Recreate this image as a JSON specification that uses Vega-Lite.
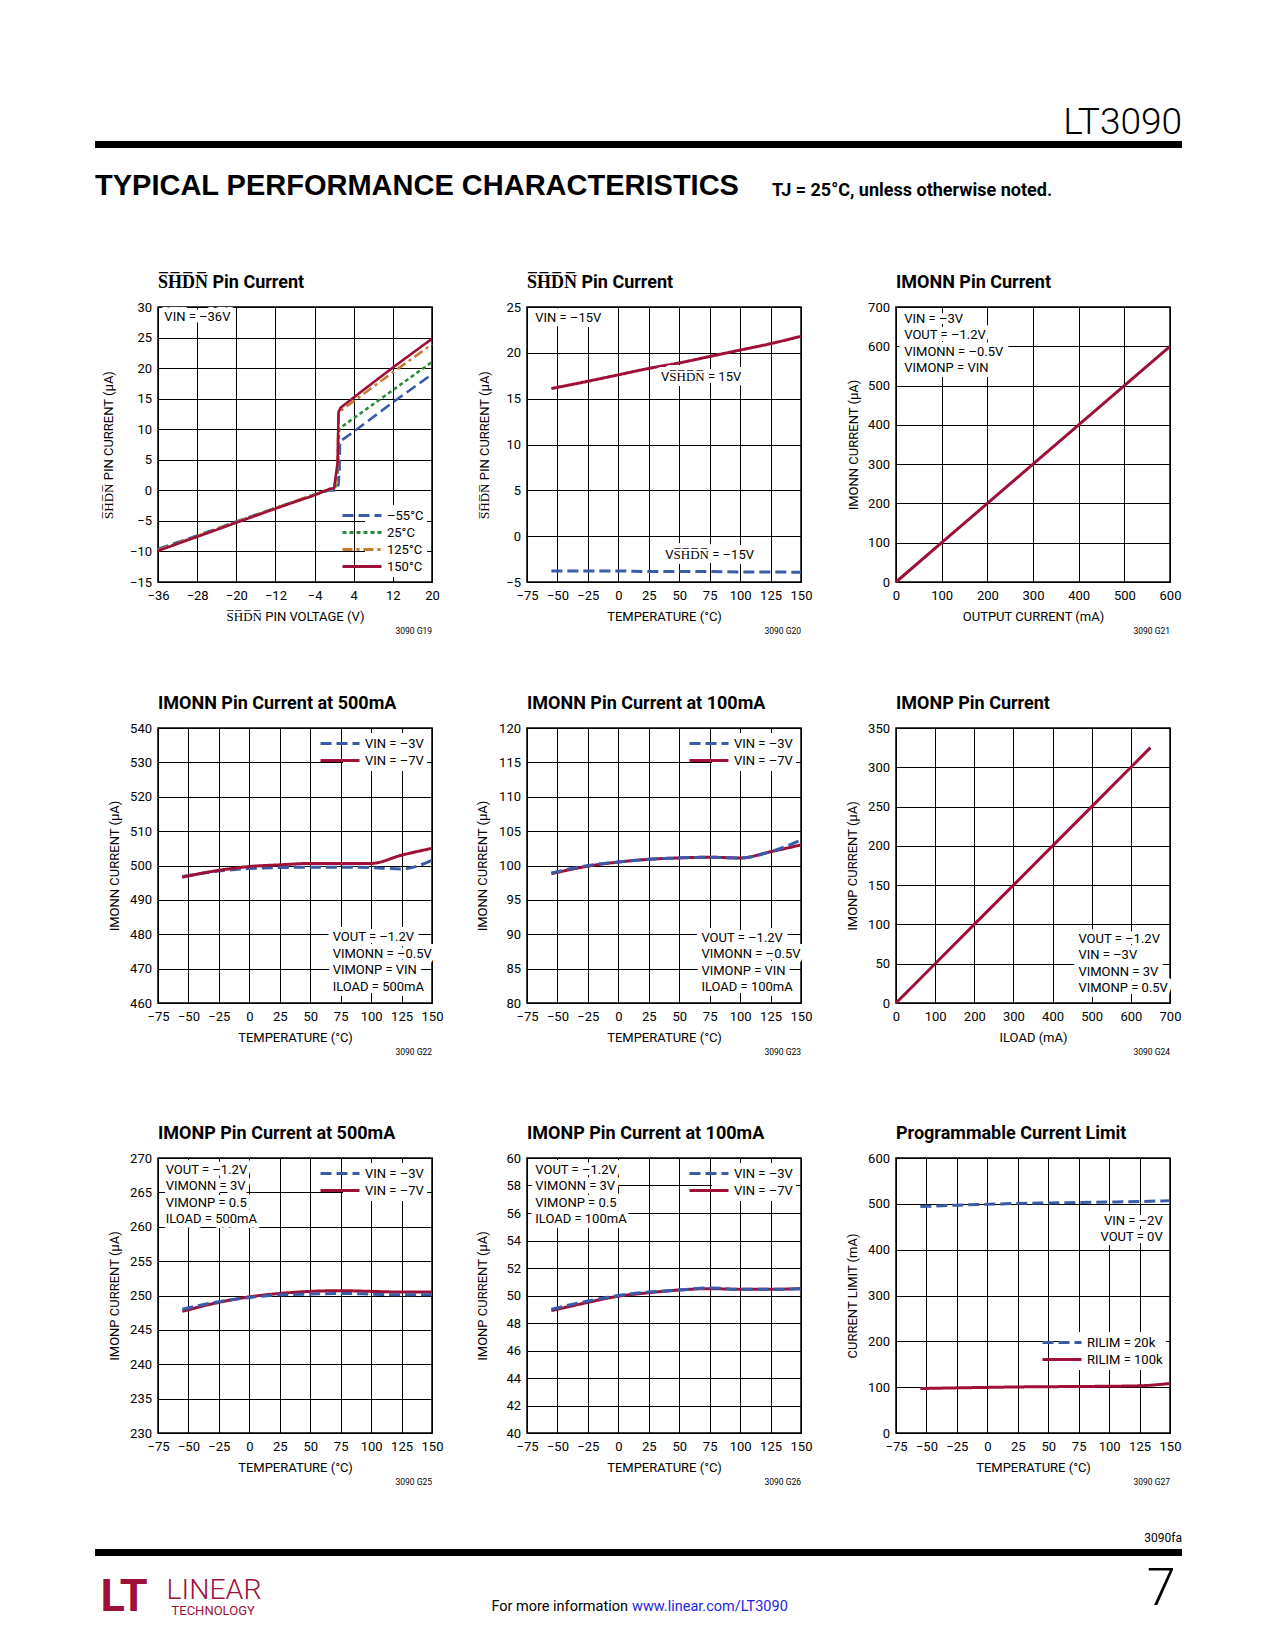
{
  "$schema": "https://vega.github.io/schema/vega-lite/v6.json",
  "background": "white",
  "padding": {"left": 94, "top": 103, "right": 0, "bottom": 0},
  "spacing": 0,
  "columns": 1,
  "align": "none",
  "resolve": {"scale": {"color": "independent", "strokeDash": "independent"}},
  "config": {
    "font": "Roboto",
    "view": {"stroke": "black", "strokeWidth": 1.5},
    "axis": {"grid": true, "gridColor": "black", "gridOpacity": 1, "gridWidth": 1, "domain": false, "ticks": false,
      "labelFont": "Roboto", "labelFontSize": 13, "labelColor": "black", "labelPadding": 6.5,
      "labelOverlap": false, "labelFlush": false, "tickCount": 20,
      "titleFont": "Roboto", "titleFontSize": 13, "titleFontWeight": "normal", "titleColor": "black"},
    "axisX": {"labelPadding": 7, "titlePadding": 8},
    "title": {"font": "Roboto", "fontSize": 18, "fontWeight": "bold", "color": "black", "anchor": "start", "frame": "group", "baseline": "alphabetic", "offset": 9.5},
    "legend": {"labelFont": "Roboto", "labelFontSize": 13, "labelColor": "black", "fillColor": "white", "padding": 3,
      "symbolType": "M-5.5,0H1", "symbolSize": 144, "symbolStrokeWidth": 3, "labelOffset": 4, "rowPadding": 2},
    "text": {"font": "Roboto", "fontSize": 13, "color": "black"}
  },
  "concat": [
    {
      "width": 1087, "height": 7,
      "view": {"fill": "black", "stroke": null},
      "title": {"text": "LT3090", "anchor": "end", "fontSize": 37, "fontWeight": 300, "offset": -3},
      "data": {"values": [{}]},
      "mark": {"type": "text"},
      "encoding": {"text": {"value": ""}}
    },
    {
      "width": 10, "height": 20, "view": {"stroke": null},
      "data": {"values": [{}]}, "mark": {"type": "text"}, "encoding": {"text": {"value": ""}}
    },
    {
      "bounds": "flush", "spacing": 27,
      "hconcat": [
        {
          "width": 650, "height": 64.5, "view": {"stroke": null},
          "title": {"text": "TYPICAL PERFORMANCE CHARACTERISTICS", "font": "Liberation Sans", "fontSize": 29, "fontWeight": "bold", "offset": 6},
          "data": {"values": [{}]}, "mark": {"type": "text"}, "encoding": {"text": {"value": ""}}
        },
        {
          "width": 410, "height": 64.5, "view": {"stroke": null},
          "title": {"text": "TJ = 25°C, unless otherwise noted.", "fontSize": 18, "fontWeight": "bold", "offset": 7.5},
          "data": {"values": [{}]}, "mark": {"type": "text"}, "encoding": {"text": {"value": ""}}
        }
      ]
    },
    {
      "bounds": "flush", "spacing": 62,
      "resolve": {"scale": {"color": "independent", "strokeDash": "independent"}},
      "hconcat": [
        {
          "width": 1, "height": 1, "view": {"stroke": null},
          "data": {"values": [{}]}, "mark": {"type": "text"}, "encoding": {"text": {"value": ""}}
        },
        {
          "bounds": "flush", "spacing": 95,
          "resolve": {"scale": {"color": "independent", "strokeDash": "independent"}},
          "hconcat": [
            {
              "width": 274, "height": 275,
              "title": {"text": "S̅H̅D̅N̅ Pin Current"},
              "layer": [
                {
                  "data": {"values": [
                    {"s": "–55°C", "x": -36, "y": -9.6}, {"s": "–55°C", "x": -28, "y": -7.4}, {"s": "–55°C", "x": -20, "y": -5.1}, {"s": "–55°C", "x": -12, "y": -2.9}, {"s": "–55°C", "x": -4, "y": -0.7}, {"s": "–55°C", "x": -1, "y": 0.0}, {"s": "–55°C", "x": 0.4, "y": 0.0}, {"s": "–55°C", "x": 0.9, "y": 1.0}, {"s": "–55°C", "x": 1.1, "y": 3.5}, {"s": "–55°C", "x": 1.2, "y": 8.0}, {"s": "–55°C", "x": 4, "y": 9.6}, {"s": "–55°C", "x": 12, "y": 14.4}, {"s": "–55°C", "x": 20, "y": 19.0},
                    {"s": "25°C", "x": -36, "y": -9.8}, {"s": "25°C", "x": -28, "y": -7.5}, {"s": "25°C", "x": -20, "y": -5.2}, {"s": "25°C", "x": -12, "y": -2.9}, {"s": "25°C", "x": -4, "y": -0.7}, {"s": "25°C", "x": -1, "y": 0.1}, {"s": "25°C", "x": 0.2, "y": 0.2}, {"s": "25°C", "x": 0.8, "y": 3.5}, {"s": "25°C", "x": 1.0, "y": 9.8}, {"s": "25°C", "x": 1.4, "y": 10.3}, {"s": "25°C", "x": 4, "y": 11.8}, {"s": "25°C", "x": 12, "y": 16.4}, {"s": "25°C", "x": 20, "y": 21.0},
                    {"s": "125°C", "x": -36, "y": -9.8}, {"s": "125°C", "x": -28, "y": -7.5}, {"s": "125°C", "x": -20, "y": -5.2}, {"s": "125°C", "x": -12, "y": -2.9}, {"s": "125°C", "x": -4, "y": -0.7}, {"s": "125°C", "x": -1, "y": 0.2}, {"s": "125°C", "x": 0.1, "y": 0.3}, {"s": "125°C", "x": 0.7, "y": 4.0}, {"s": "125°C", "x": 0.9, "y": 12.3}, {"s": "125°C", "x": 1.3, "y": 13.0}, {"s": "125°C", "x": 4, "y": 14.6}, {"s": "125°C", "x": 12, "y": 19.3}, {"s": "125°C", "x": 20, "y": 23.9},
                    {"s": "150°C", "x": -36, "y": -9.9}, {"s": "150°C", "x": -28, "y": -7.6}, {"s": "150°C", "x": -20, "y": -5.3}, {"s": "150°C", "x": -12, "y": -3.0}, {"s": "150°C", "x": -4, "y": -0.8}, {"s": "150°C", "x": -1, "y": 0.2}, {"s": "150°C", "x": 0.0, "y": 0.4}, {"s": "150°C", "x": 0.7, "y": 4.5}, {"s": "150°C", "x": 0.9, "y": 12.8}, {"s": "150°C", "x": 1.3, "y": 13.5}, {"s": "150°C", "x": 4, "y": 15.2}, {"s": "150°C", "x": 12, "y": 20.1}, {"s": "150°C", "x": 20, "y": 24.8}
                  ]},
                  "mark": {"type": "line", "strokeWidth": 2.6},
                  "encoding": {
                    "x": {"field": "x", "type": "quantitative", "scale": {"domain": [-36, 20], "nice": false, "zero": false}, "axis": {"values": [-36, -28, -20, -12, -4, 4, 12, 20], "tickCount": 20, "title": "S̅H̅D̅N̅ PIN VOLTAGE (V)"}},
                    "y": {"field": "y", "type": "quantitative", "scale": {"domain": [-15, 30], "nice": false, "zero": false}, "axis": {"values": [-15, -10, -5, 0, 5, 10, 15, 20, 25, 30], "tickCount": 20, "title": ["", "S̅H̅D̅N̅ PIN CURRENT (μA)"], "titleLineHeight": 7.3, "titlePadding": 14.1}},
                    "color": {"field": "s", "type": "nominal", "scale": {"domain": ["–55°C", "25°C", "125°C", "150°C"], "range": ["#3a5ca8", "#2d8c3c", "#c97c2f", "#9e1038"]}, "legend": {"title": null, "orient": "bottom-right", "offset": 5}},
                    "strokeDash": {"field": "s", "type": "nominal", "scale": {"domain": ["–55°C", "25°C", "125°C", "150°C"], "range": [[11, 5], [4, 3], [10, 4, 3, 4], [1, 0]]}, "legend": {"title": null, "orient": "bottom-right", "offset": 5}}
                  }
                },
                {"data": {"values": [{}]}, "mark": {"type": "text", "align": "left", "baseline": "top", "fill": "white", "stroke": "white", "strokeWidth": 10, "strokeJoin": "round"},
                 "encoding": {"x": {"datum": -34.7}, "y": {"datum": 29.3}, "text": {"value": "VIN = –36V"}}},
                {"data": {"values": [{}]}, "mark": {"type": "text", "align": "left", "baseline": "top"},
                 "encoding": {"x": {"datum": -34.7}, "y": {"datum": 29.3}, "text": {"value": "VIN = –36V"}}},
                {"data": {"values": [{}]}, "mark": {"type": "text", "align": "right", "baseline": "middle", "fontSize": 8.5, "dy": 49},
                 "encoding": {"x": {"datum": 20}, "y": {"datum": -15}, "text": {"value": "3090 G19"}}}
              ]
            },
            {
              "width": 274, "height": 275,
              "title": {"text": "S̅H̅D̅N̅ Pin Current"},
              "layer": [
                {
                  "data": {"values": [
                    {"s": "VSHDN = 15V", "x": -55, "y": 16.1}, {"s": "VSHDN = 15V", "x": -25, "y": 16.9}, {"s": "VSHDN = 15V", "x": 0, "y": 17.6}, {"s": "VSHDN = 15V", "x": 25, "y": 18.3}, {"s": "VSHDN = 15V", "x": 50, "y": 18.9}, {"s": "VSHDN = 15V", "x": 75, "y": 19.6}, {"s": "VSHDN = 15V", "x": 100, "y": 20.3}, {"s": "VSHDN = 15V", "x": 125, "y": 21.0}, {"s": "VSHDN = 15V", "x": 150, "y": 21.8},
                    {"s": "VSHDN = –15V", "x": -55, "y": -3.8}, {"s": "VSHDN = –15V", "x": -25, "y": -3.8}, {"s": "VSHDN = –15V", "x": 0, "y": -3.8}, {"s": "VSHDN = –15V", "x": 25, "y": -3.85}, {"s": "VSHDN = –15V", "x": 50, "y": -3.85}, {"s": "VSHDN = –15V", "x": 75, "y": -3.85}, {"s": "VSHDN = –15V", "x": 100, "y": -3.9}, {"s": "VSHDN = –15V", "x": 125, "y": -3.9}, {"s": "VSHDN = –15V", "x": 150, "y": -3.95}
                  ]},
                  "mark": {"type": "line", "strokeWidth": 3, "interpolate": "monotone"},
                  "encoding": {
                    "x": {"field": "x", "type": "quantitative", "scale": {"domain": [-75, 150], "nice": false, "zero": false}, "axis": {"values": [-75, -50, -25, 0, 25, 50, 75, 100, 125, 150], "tickCount": 20, "title": "TEMPERATURE (°C)"}},
                    "y": {"field": "y", "type": "quantitative", "scale": {"domain": [-5, 25], "nice": false, "zero": false}, "axis": {"values": [-5, 0, 5, 10, 15, 20, 25], "tickCount": 20, "title": "S̅H̅D̅N̅ PIN CURRENT (μA)", "titlePadding": 14.1}},
                    "color": {"field": "s", "type": "nominal", "scale": {"domain": ["VSHDN = –15V", "VSHDN = 15V"], "range": ["#3a5ca8", "#9e1038"]}, "legend": null},
                    "strokeDash": {"field": "s", "type": "nominal", "scale": {"domain": ["VSHDN = –15V", "VSHDN = 15V"], "range": [[11, 5], [1, 0]]}, "legend": null}
                  }
                },
                {"data": {"values": [{}]}, "mark": {"type": "text", "align": "left", "baseline": "top", "fill": "white", "stroke": "white", "strokeWidth": 10, "strokeJoin": "round"},
                 "encoding": {"x": {"datum": -68.2}, "y": {"datum": 24.5}, "text": {"value": "VIN = –15V"}}},
                {"data": {"values": [{}]}, "mark": {"type": "text", "align": "left", "baseline": "top"},
                 "encoding": {"x": {"datum": -68.2}, "y": {"datum": 24.5}, "text": {"value": "VIN = –15V"}}},
                {"data": {"values": [{}]}, "mark": {"type": "text", "align": "center", "baseline": "middle", "fill": "white", "stroke": "white", "strokeWidth": 10, "strokeJoin": "round"},
                 "encoding": {"x": {"datum": 68}, "y": {"datum": 17.4}, "text": {"value": "VS̅H̅D̅N̅ = 15V"}}},
                {"data": {"values": [{}]}, "mark": {"type": "text", "align": "center", "baseline": "middle"},
                 "encoding": {"x": {"datum": 68}, "y": {"datum": 17.4}, "text": {"value": "VS̅H̅D̅N̅ = 15V"}}},
                {"data": {"values": [{}]}, "mark": {"type": "text", "align": "center", "baseline": "middle", "fill": "white", "stroke": "white", "strokeWidth": 10, "strokeJoin": "round"},
                 "encoding": {"x": {"datum": 75}, "y": {"datum": -2.0}, "text": {"value": "VS̅H̅D̅N̅ = –15V"}}},
                {"data": {"values": [{}]}, "mark": {"type": "text", "align": "center", "baseline": "middle"},
                 "encoding": {"x": {"datum": 75}, "y": {"datum": -2.0}, "text": {"value": "VS̅H̅D̅N̅ = –15V"}}},
                {"data": {"values": [{}]}, "mark": {"type": "text", "align": "right", "baseline": "middle", "fontSize": 8.5, "dy": 49},
                 "encoding": {"x": {"datum": 150}, "y": {"datum": -5}, "text": {"value": "3090 G20"}}}
              ]
            },
            {
              "width": 274, "height": 275,
              "title": {"text": "IMONN Pin Current"},
              "layer": [
                {
                  "data": {"values": [
                    {"x": 0, "y": 0}, {"x": 100, "y": 100}, {"x": 200, "y": 200}, {"x": 300, "y": 300}, {"x": 400, "y": 400}, {"x": 500, "y": 500}, {"x": 600, "y": 600}
                  ]},
                  "mark": {"type": "line", "strokeWidth": 3, "color": "#9e1038"},
                  "encoding": {
                    "x": {"field": "x", "type": "quantitative", "scale": {"domain": [0, 600], "nice": false, "zero": false}, "axis": {"values": [0, 100, 200, 300, 400, 500, 600], "tickCount": 20, "title": "OUTPUT CURRENT (mA)"}},
                    "y": {"field": "y", "type": "quantitative", "scale": {"domain": [0, 700], "nice": false, "zero": false}, "axis": {"values": [0, 100, 200, 300, 400, 500, 600, 700], "tickCount": 20, "title": "IMONN CURRENT (μA)", "titlePadding": 7.2}}
                  }
                },
                {"data": {"values": [{}]}, "mark": {"type": "text", "align": "left", "baseline": "top", "lineHeight": 16.5, "fill": "white", "stroke": "white", "strokeWidth": 10, "strokeJoin": "round"},
                 "encoding": {"x": {"datum": 18}, "y": {"datum": 686}, "text": {"value": ["VIN = –3V", "VOUT = –1.2V", "VIMONN = –0.5V", "VIMONP = VIN"]}}},
                {"data": {"values": [{}]}, "mark": {"type": "text", "align": "left", "baseline": "top", "lineHeight": 16.5},
                 "encoding": {"x": {"datum": 18}, "y": {"datum": 686}, "text": {"value": ["VIN = –3V", "VOUT = –1.2V", "VIMONN = –0.5V", "VIMONP = VIN"]}}},
                {"data": {"values": [{}]}, "mark": {"type": "text", "align": "right", "baseline": "middle", "fontSize": 8.5, "dy": 49},
                 "encoding": {"x": {"datum": 600}, "y": {"datum": 0}, "text": {"value": "3090 G21"}}}
              ]
            }
          ]
        }
      ]
    },
    {
      "width": 10, "height": 56, "view": {"stroke": null},
      "data": {"values": [{}]}, "mark": {"type": "text"}, "encoding": {"text": {"value": ""}}
    },
    {
      "bounds": "flush", "spacing": 62,
      "resolve": {"scale": {"color": "independent", "strokeDash": "independent"}},
      "hconcat": [
        {
          "width": 1, "height": 1, "view": {"stroke": null},
          "data": {"values": [{}]}, "mark": {"type": "text"}, "encoding": {"text": {"value": ""}}
        },
        {
          "bounds": "flush", "columns": 3, "spacing": {"column": 95, "row": 155},
          "resolve": {"scale": {"color": "independent", "strokeDash": "independent"}},
          "concat": [
            {
              "width": 274, "height": 275,
              "title": {"text": "IMONN Pin Current at 500mA"},
              "layer": [
                {
                  "data": {"values": [
                    {"s": "VIN = –3V", "x": -55, "y": 496.8}, {"s": "VIN = –3V", "x": -25, "y": 498.4}, {"s": "VIN = –3V", "x": 0, "y": 499.1}, {"s": "VIN = –3V", "x": 25, "y": 499.4}, {"s": "VIN = –3V", "x": 50, "y": 499.5}, {"s": "VIN = –3V", "x": 75, "y": 499.5}, {"s": "VIN = –3V", "x": 100, "y": 499.4}, {"s": "VIN = –3V", "x": 125, "y": 499.0}, {"s": "VIN = –3V", "x": 150, "y": 501.5},
                    {"s": "VIN = –7V", "x": -55, "y": 496.6}, {"s": "VIN = –7V", "x": -25, "y": 498.6}, {"s": "VIN = –7V", "x": 0, "y": 499.7}, {"s": "VIN = –7V", "x": 25, "y": 500.2}, {"s": "VIN = –7V", "x": 50, "y": 500.6}, {"s": "VIN = –7V", "x": 75, "y": 500.6}, {"s": "VIN = –7V", "x": 100, "y": 500.6}, {"s": "VIN = –7V", "x": 125, "y": 503.0}, {"s": "VIN = –7V", "x": 150, "y": 505.0}
                  ]},
                  "mark": {"type": "line", "strokeWidth": 3, "interpolate": "monotone"},
                  "encoding": {
                    "x": {"field": "x", "type": "quantitative", "scale": {"domain": [-75, 150], "nice": false, "zero": false}, "axis": {"values": [-75, -50, -25, 0, 25, 50, 75, 100, 125, 150], "tickCount": 20, "title": "TEMPERATURE (°C)"}},
                    "y": {"field": "y", "type": "quantitative", "scale": {"domain": [460, 540], "nice": false, "zero": false}, "axis": {"values": [460, 470, 480, 490, 500, 510, 520, 530, 540], "tickCount": 20, "title": ["", "IMONN CURRENT (μA)"], "titleLineHeight": 13.3, "titlePadding": 8.2}},
                    "color": {"field": "s", "type": "nominal", "scale": {"domain": ["VIN = –3V", "VIN = –7V"], "range": ["#3a5ca8", "#9e1038"]}, "legend": {"title": null, "orient": "top-right", "offset": 5}},
                    "strokeDash": {"field": "s", "type": "nominal", "scale": {"domain": ["VIN = –3V", "VIN = –7V"], "range": [[11, 5], [1, 0]]}, "legend": {"title": null, "orient": "top-right", "offset": 5}}
                  }
                },
                {"data": {"values": [{}]}, "mark": {"type": "text", "align": "left", "baseline": "middle", "lineHeight": 16.5, "fill": "white", "stroke": "white", "strokeWidth": 10, "strokeJoin": "round"},
                 "encoding": {"x": {"datum": 68.4}, "y": {"datum": 479.2}, "text": {"value": ["VOUT = –1.2V", "VIMONN = –0.5V", "VIMONP = VIN", "ILOAD = 500mA"]}}},
                {"data": {"values": [{}]}, "mark": {"type": "text", "align": "left", "baseline": "middle", "lineHeight": 16.5},
                 "encoding": {"x": {"datum": 68.4}, "y": {"datum": 479.2}, "text": {"value": ["VOUT = –1.2V", "VIMONN = –0.5V", "VIMONP = VIN", "ILOAD = 500mA"]}}},
                {"data": {"values": [{}]}, "mark": {"type": "text", "align": "right", "baseline": "middle", "fontSize": 8.5, "dy": 49},
                 "encoding": {"x": {"datum": 150}, "y": {"datum": 460}, "text": {"value": "3090 G22"}}}
              ]
            },
            {
              "width": 274, "height": 275,
              "title": {"text": "IMONN Pin Current at 100mA"},
              "layer": [
                {
                  "data": {"values": [
                    {"s": "VIN = –7V", "x": -55, "y": 98.8}, {"s": "VIN = –7V", "x": -25, "y": 99.9}, {"s": "VIN = –7V", "x": 0, "y": 100.5}, {"s": "VIN = –7V", "x": 25, "y": 100.9}, {"s": "VIN = –7V", "x": 50, "y": 101.1}, {"s": "VIN = –7V", "x": 75, "y": 101.2}, {"s": "VIN = –7V", "x": 100, "y": 101.1}, {"s": "VIN = –7V", "x": 125, "y": 102.0}, {"s": "VIN = –7V", "x": 150, "y": 103.0},
                    {"s": "VIN = –3V", "x": -55, "y": 98.9}, {"s": "VIN = –3V", "x": -25, "y": 100.0}, {"s": "VIN = –3V", "x": 0, "y": 100.5}, {"s": "VIN = –3V", "x": 25, "y": 100.9}, {"s": "VIN = –3V", "x": 50, "y": 101.1}, {"s": "VIN = –3V", "x": 75, "y": 101.2}, {"s": "VIN = –3V", "x": 100, "y": 101.1}, {"s": "VIN = –3V", "x": 125, "y": 102.0}, {"s": "VIN = –3V", "x": 150, "y": 103.7}
                  ]},
                  "mark": {"type": "line", "strokeWidth": 3, "interpolate": "monotone"},
                  "encoding": {
                    "x": {"field": "x", "type": "quantitative", "scale": {"domain": [-75, 150], "nice": false, "zero": false}, "axis": {"values": [-75, -50, -25, 0, 25, 50, 75, 100, 125, 150], "tickCount": 20, "title": "TEMPERATURE (°C)"}},
                    "y": {"field": "y", "type": "quantitative", "scale": {"domain": [80, 120], "nice": false, "zero": false}, "axis": {"values": [80, 85, 90, 95, 100, 105, 110, 115, 120], "tickCount": 20, "title": "IMONN CURRENT (μA)", "titlePadding": 9.2}},
                    "color": {"field": "s", "type": "nominal", "scale": {"domain": ["VIN = –3V", "VIN = –7V"], "range": ["#3a5ca8", "#9e1038"]}, "legend": {"title": null, "orient": "top-right", "offset": 5}},
                    "strokeDash": {"field": "s", "type": "nominal", "scale": {"domain": ["VIN = –3V", "VIN = –7V"], "range": [[11, 5], [1, 0]]}, "legend": {"title": null, "orient": "top-right", "offset": 5}}
                  }
                },
                {"data": {"values": [{}]}, "mark": {"type": "text", "align": "left", "baseline": "middle", "lineHeight": 16.5, "fill": "white", "stroke": "white", "strokeWidth": 10, "strokeJoin": "round"},
                 "encoding": {"x": {"datum": 68.2}, "y": {"datum": 89.5}, "text": {"value": ["VOUT = –1.2V", "VIMONN = –0.5V", "VIMONP = VIN", "ILOAD = 100mA"]}}},
                {"data": {"values": [{}]}, "mark": {"type": "text", "align": "left", "baseline": "middle", "lineHeight": 16.5},
                 "encoding": {"x": {"datum": 68.2}, "y": {"datum": 89.5}, "text": {"value": ["VOUT = –1.2V", "VIMONN = –0.5V", "VIMONP = VIN", "ILOAD = 100mA"]}}},
                {"data": {"values": [{}]}, "mark": {"type": "text", "align": "right", "baseline": "middle", "fontSize": 8.5, "dy": 49},
                 "encoding": {"x": {"datum": 150}, "y": {"datum": 80}, "text": {"value": "3090 G23"}}}
              ]
            },
            {
              "width": 274, "height": 275,
              "title": {"text": "IMONP Pin Current"},
              "layer": [
                {
                  "data": {"values": [
                    {"x": 0, "y": 0}, {"x": 100, "y": 50}, {"x": 200, "y": 100}, {"x": 300, "y": 150}, {"x": 400, "y": 200}, {"x": 500, "y": 250}, {"x": 600, "y": 300}, {"x": 650, "y": 325}
                  ]},
                  "mark": {"type": "line", "strokeWidth": 3, "color": "#9e1038"},
                  "encoding": {
                    "x": {"field": "x", "type": "quantitative", "scale": {"domain": [0, 700], "nice": false, "zero": false}, "axis": {"values": [0, 100, 200, 300, 400, 500, 600, 700], "tickCount": 20, "title": "ILOAD (mA)"}},
                    "y": {"field": "y", "type": "quantitative", "scale": {"domain": [0, 350], "nice": false, "zero": false}, "axis": {"values": [0, 50, 100, 150, 200, 250, 300, 350], "tickCount": 20, "title": "IMONP CURRENT (μA)", "titlePadding": 7.8}}
                  }
                },
                {"data": {"values": [{}]}, "mark": {"type": "text", "align": "left", "baseline": "middle", "lineHeight": 16.5, "fill": "white", "stroke": "white", "strokeWidth": 10, "strokeJoin": "round"},
                 "encoding": {"x": {"datum": 466}, "y": {"datum": 81.5}, "text": {"value": ["VOUT = –1.2V", "VIN = –3V", "VIMONN = 3V", "VIMONP = 0.5V"]}}},
                {"data": {"values": [{}]}, "mark": {"type": "text", "align": "left", "baseline": "middle", "lineHeight": 16.5},
                 "encoding": {"x": {"datum": 466}, "y": {"datum": 81.5}, "text": {"value": ["VOUT = –1.2V", "VIN = –3V", "VIMONN = 3V", "VIMONP = 0.5V"]}}},
                {"data": {"values": [{}]}, "mark": {"type": "text", "align": "right", "baseline": "middle", "fontSize": 8.5, "dy": 49},
                 "encoding": {"x": {"datum": 700}, "y": {"datum": 0}, "text": {"value": "3090 G24"}}}
              ]
            },
            {
              "width": 274, "height": 275,
              "title": {"text": "IMONP Pin Current at 500mA"},
              "layer": [
                {
                  "data": {"values": [
                    {"s": "VIN = –7V", "x": -55, "y": 247.7}, {"s": "VIN = –7V", "x": -25, "y": 249.0}, {"s": "VIN = –7V", "x": 0, "y": 249.8}, {"s": "VIN = –7V", "x": 25, "y": 250.3}, {"s": "VIN = –7V", "x": 50, "y": 250.6}, {"s": "VIN = –7V", "x": 75, "y": 250.7}, {"s": "VIN = –7V", "x": 100, "y": 250.6}, {"s": "VIN = –7V", "x": 125, "y": 250.5}, {"s": "VIN = –7V", "x": 150, "y": 250.5},
                    {"s": "VIN = –3V", "x": -55, "y": 248.0}, {"s": "VIN = –3V", "x": -25, "y": 249.1}, {"s": "VIN = –3V", "x": 0, "y": 249.7}, {"s": "VIN = –3V", "x": 25, "y": 250.1}, {"s": "VIN = –3V", "x": 50, "y": 250.2}, {"s": "VIN = –3V", "x": 75, "y": 250.3}, {"s": "VIN = –3V", "x": 100, "y": 250.2}, {"s": "VIN = –3V", "x": 125, "y": 250.1}, {"s": "VIN = –3V", "x": 150, "y": 250.1}
                  ]},
                  "mark": {"type": "line", "strokeWidth": 3, "interpolate": "monotone"},
                  "encoding": {
                    "x": {"field": "x", "type": "quantitative", "scale": {"domain": [-75, 150], "nice": false, "zero": false}, "axis": {"values": [-75, -50, -25, 0, 25, 50, 75, 100, 125, 150], "tickCount": 20, "title": "TEMPERATURE (°C)"}},
                    "y": {"field": "y", "type": "quantitative", "scale": {"domain": [230, 270], "nice": false, "zero": false}, "axis": {"values": [230, 235, 240, 245, 250, 255, 260, 265, 270], "tickCount": 20, "title": ["", "IMONP CURRENT (μA)"], "titleLineHeight": 13.3, "titlePadding": 8.2}},
                    "color": {"field": "s", "type": "nominal", "scale": {"domain": ["VIN = –3V", "VIN = –7V"], "range": ["#3a5ca8", "#9e1038"]}, "legend": {"title": null, "orient": "top-right", "offset": 5}},
                    "strokeDash": {"field": "s", "type": "nominal", "scale": {"domain": ["VIN = –3V", "VIN = –7V"], "range": [[11, 5], [1, 0]]}, "legend": {"title": null, "orient": "top-right", "offset": 5}}
                  }
                },
                {"data": {"values": [{}]}, "mark": {"type": "text", "align": "left", "baseline": "top", "lineHeight": 16.5, "fill": "white", "stroke": "white", "strokeWidth": 10, "strokeJoin": "round"},
                 "encoding": {"x": {"datum": -68.7}, "y": {"datum": 269.2}, "text": {"value": ["VOUT = –1.2V", "VIMONN = 3V", "VIMONP = 0.5", "ILOAD = 500mA"]}}},
                {"data": {"values": [{}]}, "mark": {"type": "text", "align": "left", "baseline": "top", "lineHeight": 16.5},
                 "encoding": {"x": {"datum": -68.7}, "y": {"datum": 269.2}, "text": {"value": ["VOUT = –1.2V", "VIMONN = 3V", "VIMONP = 0.5", "ILOAD = 500mA"]}}},
                {"data": {"values": [{}]}, "mark": {"type": "text", "align": "right", "baseline": "middle", "fontSize": 8.5, "dy": 49},
                 "encoding": {"x": {"datum": 150}, "y": {"datum": 230}, "text": {"value": "3090 G25"}}}
              ]
            },
            {
              "width": 274, "height": 275,
              "title": {"text": "IMONP Pin Current at 100mA"},
              "layer": [
                {
                  "data": {"values": [
                    {"s": "VIN = –7V", "x": -55, "y": 48.9}, {"s": "VIN = –7V", "x": -25, "y": 49.5}, {"s": "VIN = –7V", "x": 0, "y": 49.95}, {"s": "VIN = –7V", "x": 25, "y": 50.2}, {"s": "VIN = –7V", "x": 50, "y": 50.4}, {"s": "VIN = –7V", "x": 75, "y": 50.5}, {"s": "VIN = –7V", "x": 100, "y": 50.45}, {"s": "VIN = –7V", "x": 125, "y": 50.45}, {"s": "VIN = –7V", "x": 150, "y": 50.5},
                    {"s": "VIN = –3V", "x": -55, "y": 49.0}, {"s": "VIN = –3V", "x": -25, "y": 49.6}, {"s": "VIN = –3V", "x": 0, "y": 50.0}, {"s": "VIN = –3V", "x": 25, "y": 50.25}, {"s": "VIN = –3V", "x": 50, "y": 50.4}, {"s": "VIN = –3V", "x": 75, "y": 50.55}, {"s": "VIN = –3V", "x": 100, "y": 50.45}, {"s": "VIN = –3V", "x": 125, "y": 50.45}, {"s": "VIN = –3V", "x": 150, "y": 50.5}
                  ]},
                  "mark": {"type": "line", "strokeWidth": 3, "interpolate": "monotone"},
                  "encoding": {
                    "x": {"field": "x", "type": "quantitative", "scale": {"domain": [-75, 150], "nice": false, "zero": false}, "axis": {"values": [-75, -50, -25, 0, 25, 50, 75, 100, 125, 150], "tickCount": 20, "title": "TEMPERATURE (°C)"}},
                    "y": {"field": "y", "type": "quantitative", "scale": {"domain": [40, 60], "nice": false, "zero": false}, "axis": {"values": [40, 42, 44, 46, 48, 50, 52, 54, 56, 58, 60], "tickCount": 20, "title": "IMONP CURRENT (μA)", "titlePadding": 16.5}},
                    "color": {"field": "s", "type": "nominal", "scale": {"domain": ["VIN = –3V", "VIN = –7V"], "range": ["#3a5ca8", "#9e1038"]}, "legend": {"title": null, "orient": "top-right", "offset": 5}},
                    "strokeDash": {"field": "s", "type": "nominal", "scale": {"domain": ["VIN = –3V", "VIN = –7V"], "range": [[11, 5], [1, 0]]}, "legend": {"title": null, "orient": "top-right", "offset": 5}}
                  }
                },
                {"data": {"values": [{}]}, "mark": {"type": "text", "align": "left", "baseline": "top", "lineHeight": 16.5, "fill": "white", "stroke": "white", "strokeWidth": 10, "strokeJoin": "round"},
                 "encoding": {"x": {"datum": -68.2}, "y": {"datum": 59.6}, "text": {"value": ["VOUT = –1.2V", "VIMONN = 3V", "VIMONP = 0.5", "ILOAD = 100mA"]}}},
                {"data": {"values": [{}]}, "mark": {"type": "text", "align": "left", "baseline": "top", "lineHeight": 16.5},
                 "encoding": {"x": {"datum": -68.2}, "y": {"datum": 59.6}, "text": {"value": ["VOUT = –1.2V", "VIMONN = 3V", "VIMONP = 0.5", "ILOAD = 100mA"]}}},
                {"data": {"values": [{}]}, "mark": {"type": "text", "align": "right", "baseline": "middle", "fontSize": 8.5, "dy": 49},
                 "encoding": {"x": {"datum": 150}, "y": {"datum": 40}, "text": {"value": "3090 G26"}}}
              ]
            },
            {
              "width": 274, "height": 275,
              "title": {"text": "Programmable Current Limit"},
              "layer": [
                {
                  "data": {"values": [
                    {"s": "RILIM = 20k", "x": -55, "y": 494}, {"s": "RILIM = 20k", "x": -25, "y": 497}, {"s": "RILIM = 20k", "x": 0, "y": 499}, {"s": "RILIM = 20k", "x": 25, "y": 501}, {"s": "RILIM = 20k", "x": 50, "y": 502}, {"s": "RILIM = 20k", "x": 75, "y": 503}, {"s": "RILIM = 20k", "x": 100, "y": 504}, {"s": "RILIM = 20k", "x": 125, "y": 505}, {"s": "RILIM = 20k", "x": 150, "y": 507},
                    {"s": "RILIM = 100k", "x": -55, "y": 97}, {"s": "RILIM = 100k", "x": -25, "y": 98.5}, {"s": "RILIM = 100k", "x": 0, "y": 99.5}, {"s": "RILIM = 100k", "x": 25, "y": 100.5}, {"s": "RILIM = 100k", "x": 50, "y": 101}, {"s": "RILIM = 100k", "x": 75, "y": 101.5}, {"s": "RILIM = 100k", "x": 100, "y": 102}, {"s": "RILIM = 100k", "x": 125, "y": 103}, {"s": "RILIM = 100k", "x": 150, "y": 108}
                  ]},
                  "mark": {"type": "line", "strokeWidth": 3, "interpolate": "monotone"},
                  "encoding": {
                    "x": {"field": "x", "type": "quantitative", "scale": {"domain": [-75, 150], "nice": false, "zero": false}, "axis": {"values": [-75, -50, -25, 0, 25, 50, 75, 100, 125, 150], "tickCount": 20, "title": "TEMPERATURE (°C)"}},
                    "y": {"field": "y", "type": "quantitative", "scale": {"domain": [0, 600], "nice": false, "zero": false}, "axis": {"values": [0, 100, 200, 300, 400, 500, 600], "tickCount": 20, "title": "CURRENT LIMIT (mA)", "titlePadding": 7.8}},
                    "color": {"field": "s", "type": "nominal", "scale": {"domain": ["RILIM = 20k", "RILIM = 100k"], "range": ["#3a5ca8", "#9e1038"]}, "legend": {"title": null, "orient": "none", "legendX": 169, "legendY": 174}},
                    "strokeDash": {"field": "s", "type": "nominal", "scale": {"domain": ["RILIM = 20k", "RILIM = 100k"], "range": [[11, 5], [1, 0]]}, "legend": {"title": null, "orient": "none", "legendX": 169, "legendY": 174}}
                  }
                },
                {"data": {"values": [{}]}, "mark": {"type": "text", "align": "right", "baseline": "top", "lineHeight": 16.5, "fill": "white", "stroke": "white", "strokeWidth": 10, "strokeJoin": "round"},
                 "encoding": {"x": {"datum": 144}, "y": {"datum": 476}, "text": {"value": ["VIN = –2V", "VOUT = 0V"]}}},
                {"data": {"values": [{}]}, "mark": {"type": "text", "align": "right", "baseline": "top", "lineHeight": 16.5},
                 "encoding": {"x": {"datum": 144}, "y": {"datum": 476}, "text": {"value": ["VIN = –2V", "VOUT = 0V"]}}},
                {"data": {"values": [{}]}, "mark": {"type": "text", "align": "right", "baseline": "middle", "fontSize": 8.5, "dy": 49},
                 "encoding": {"x": {"datum": 150}, "y": {"datum": 0}, "text": {"value": "3090 G27"}}}
              ]
            }
          ]
        }
      ]
    },
    {
      "width": 10, "height": 43, "view": {"stroke": null},
      "data": {"values": [{}]}, "mark": {"type": "text"}, "encoding": {"text": {"value": ""}}
    },
    {
      "width": 1087, "height": 7,
      "view": {"fill": "black", "stroke": null},
      "title": {"text": "3090fa", "anchor": "end", "fontSize": 12, "fontWeight": "normal", "offset": 2},
      "data": {"values": [{}]},
      "mark": {"type": "text"},
      "encoding": {"text": {"value": ""}}
    },
    {
      "width": 1087, "height": 80, "view": {"stroke": null},
      "data": {"values": [{}]},
      "layer": [
        {"mark": {"type": "text", "align": "right", "baseline": "alphabetic", "fontSize": 52, "fontWeight": 300, "dx": 537, "dy": 5}, "encoding": {"text": {"value": "7"}}},
        {"mark": {"type": "text", "align": "right", "baseline": "alphabetic", "fontSize": 14.5, "dx": -10.5, "dy": 10.5}, "encoding": {"text": {"value": "For more information"}}},
        {"mark": {"type": "text", "align": "left", "baseline": "alphabetic", "fontSize": 14.5, "dx": -6.5, "dy": 10.5, "color": "#2323e6"}, "encoding": {"text": {"value": "www.linear.com/LT3090"}}},
        {"mark": {"type": "text", "align": "left", "baseline": "alphabetic", "fontSize": 45, "fontWeight": "bold", "dx": -538, "dy": 11, "color": "#9e1038"}, "encoding": {"text": {"value": "LT"}}},
        {"mark": {"type": "text", "align": "left", "baseline": "alphabetic", "fontSize": 28.5, "fontWeight": 300, "dx": -472, "dy": -1.5, "color": "#9e1038"}, "encoding": {"text": {"value": "LINEAR"}}},
        {"mark": {"type": "text", "align": "left", "baseline": "alphabetic", "fontSize": 13, "dx": -467, "dy": 15, "color": "#9e1038"}, "encoding": {"text": {"value": "TECHNOLOGY"}}}
      ]
    }
  ]
}
